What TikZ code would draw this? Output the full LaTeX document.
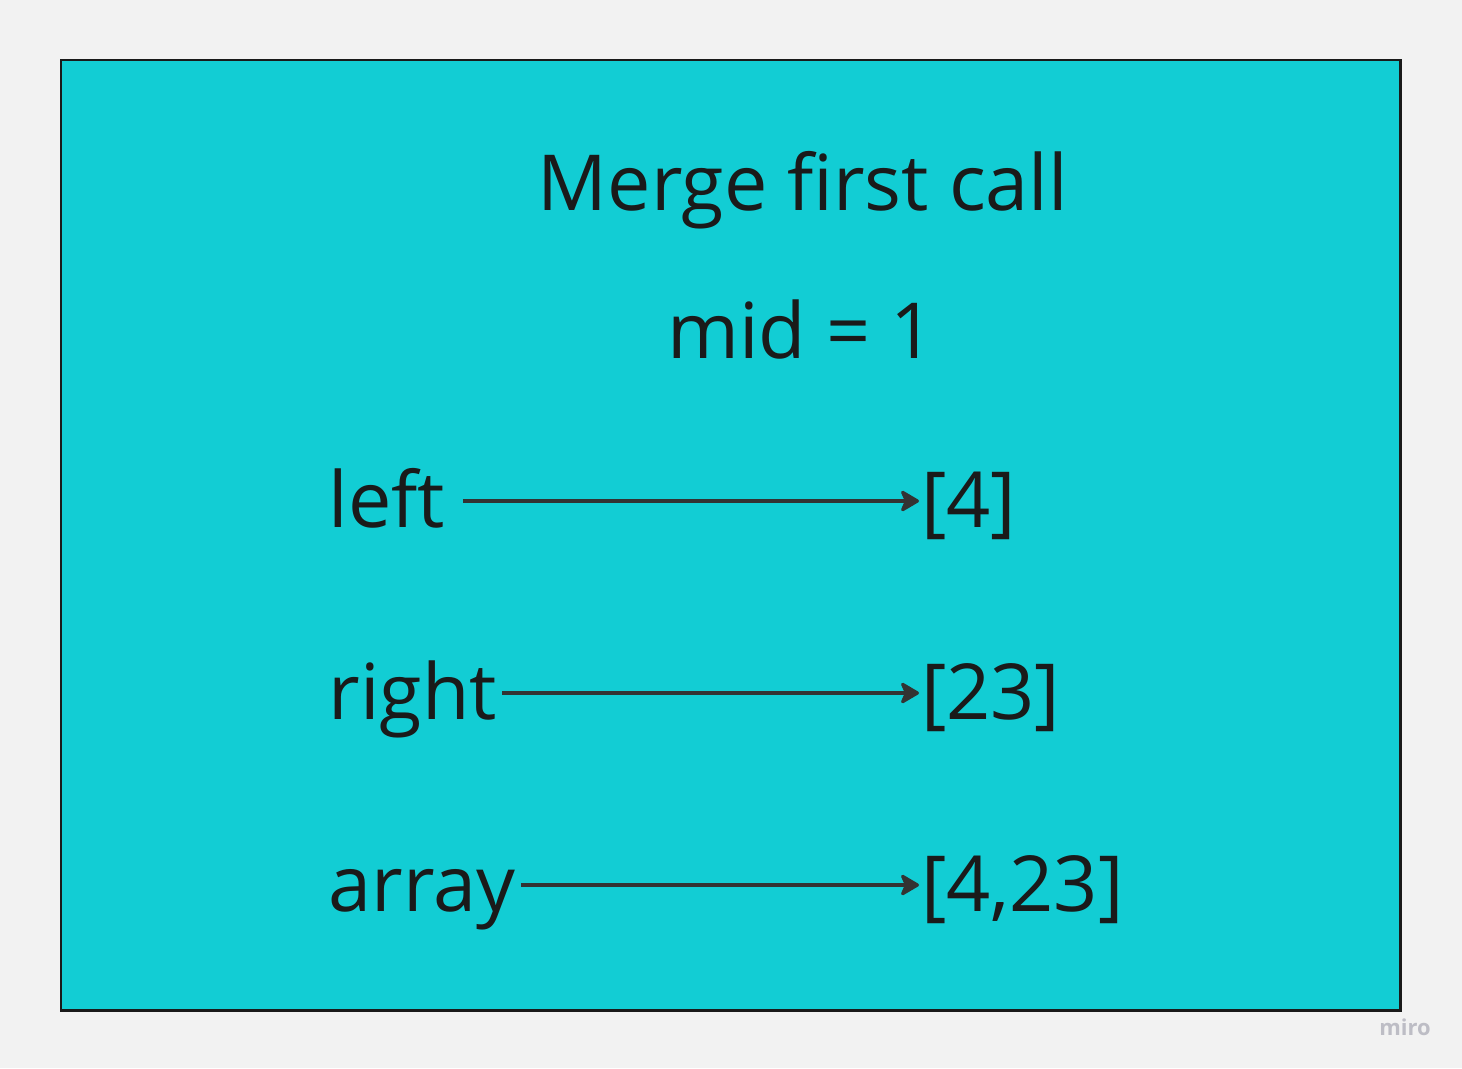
\documentclass[tikz,border=0pt]{standalone}
\usepackage{fontspec}
\setmainfont{Open Sans}
\usepackage{tikz}
\usetikzlibrary{arrows.meta,positioning}
\definecolor{pagebg}{HTML}{F2F2F2}
\definecolor{boxfill}{HTML}{12CDD4}
\definecolor{ink}{HTML}{1A1A1A}
\definecolor{arrink}{HTML}{333333}
\definecolor{wmark}{HTML}{BDBDC5}
\begin{document}
\begin{tikzpicture}[x=0.02cm,y=-0.02cm,
   lbl/.style={anchor=west,inner xsep=3pt,inner ysep=0pt,text height=34pt,text depth=4pt,
     font=\fontsize{44}{48}\selectfont,text=ink},
   val/.style={lbl,inner xsep=1pt},
   arr/.style={-{Stealth[length=12pt,width=14pt,inset=3pt,round]},line width=1.8pt,draw=arrink}]
  \useasboundingbox[fill=pagebg] (0,0) rectangle (1462,1068);
  % frame
  \draw[fill=boxfill,draw=ink,line width=1.7pt] (61,60) rectangle (1400,1010);
  % headings
  \node[lbl,anchor=base,text height=,text depth=](title) at (803,210){Merge first call};
  \node[lbl,anchor=base,text height=,text depth=](mid) at (801,358){mid = 1};
  % rows
  \node[lbl](left) at (323,501){left};       \node[val](leftv) at (919,501){[4]};
  \node[lbl](right) at (323,693){right};     \node[val](rightv) at (919,693){[23]};
  \node[lbl](array) at (323,885){array};     \node[val](arrayv) at (919,885){[4,23]};
  \draw[arr,shorten <=7pt] (left) -- (leftv);
  \draw[arr] (right) -- (rightv);
  \draw[arr] (array) -- (arrayv);
  % watermark
  \node[font=\fontsize{12.5}{13}\selectfont\bfseries,text=wmark](miro) at (1405,1027){miro};
\end{tikzpicture}
\end{document}
